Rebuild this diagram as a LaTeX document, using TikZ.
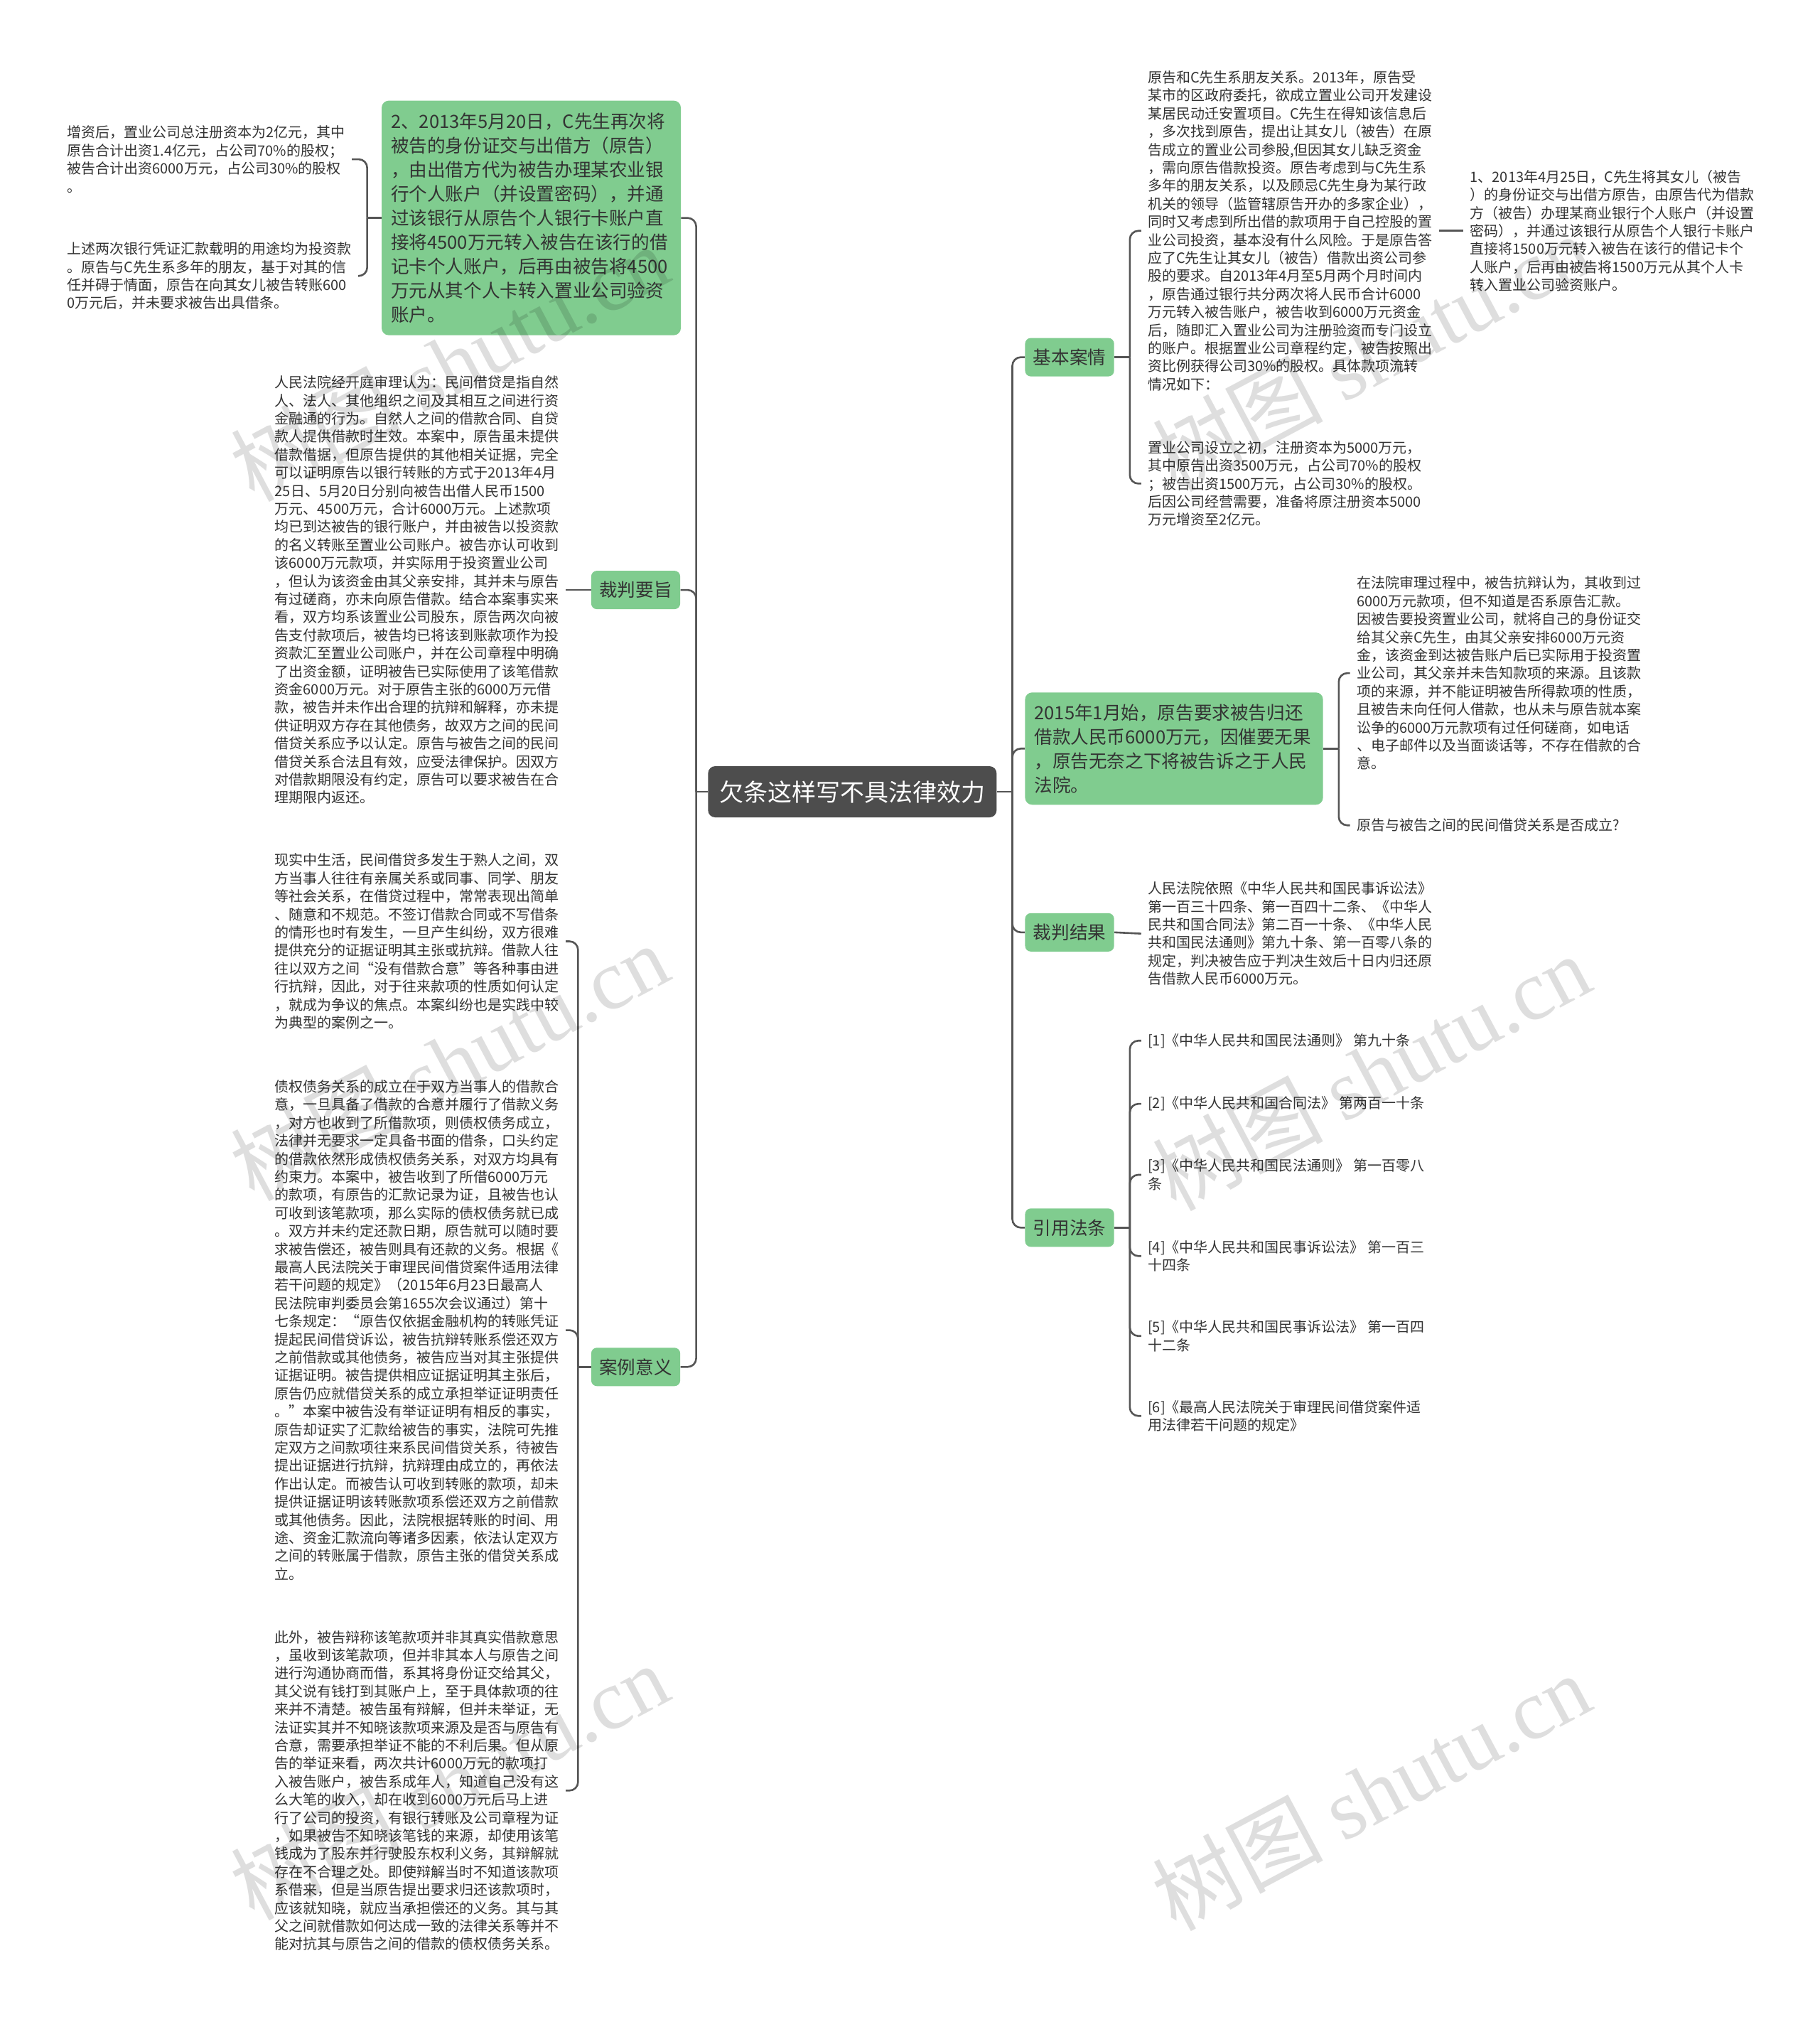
\documentclass[tikz,border=0pt]{standalone}
\usepackage{fontspec}
\setmainfont{Noto Sans CJK SC}
\newfontfamily\wmfont{Liberation Serif}
\usepackage{xcolor}
\usetikzlibrary{positioning}

\definecolor{mmgreen}{HTML}{80CC8F}
\definecolor{mmdark}{HTML}{4D4D4D}
\definecolor{mmline}{HTML}{555555}
\definecolor{mmtext}{HTML}{333333}

\tikzset{
  conn/.style={draw=mmline, line width=1.3pt, rounded corners=6pt},
  txt/.style={align=left, text=mmtext, anchor=west, inner xsep=4.5pt, inner ysep=0pt,
              font=\fontsize{10pt}{12.7pt}\selectfont},
  branch/.style={fill=mmgreen, text=mmtext, rounded corners=4pt, inner sep=0pt,
                 minimum width=62.6pt, minimum height=27pt,
                 font=\fontsize{12.8pt}{17pt}\selectfont},
  bigbranch/.style={fill=mmgreen, text=mmtext, rounded corners=5pt, align=left,
                    inner xsep=6.5pt, font=\fontsize{12.8pt}{17pt}\selectfont},
  rootbox/.style={fill=mmdark, text=white, rounded corners=5pt, inner sep=0pt,
                  minimum width=203pt, minimum height=36pt,
                  font=\fontsize{17pt}{20pt}\selectfont},
  wmark/.style={text=black, opacity=0.13, rotate=28, anchor=west, inner sep=0pt,
                font=\fontsize{60pt}{64pt}\selectfont}
}

\begin{document}
\begin{tikzpicture}[x=0.9072pt, y=-0.9072pt]

    \fill[white] (0,0) rectangle (1411,1568);
    \useasboundingbox (0,0) rectangle (1411,1568);

    % --- Center ---
    \node[rootbox] (root) at (661,614) {欠条这样写不具法律效力};

    % --- Left Side ---
    % Branches
    \node[bigbranch, text width=197.5pt, minimum height=165pt] (pay2) at (412,169) {2、2013年5月20日，C先生再次将\\被告的身份证交与出借方（原告）\\，由出借方代为被告办理某农业银\\行个人账户（并设置密码），并通\\过该银行从原告个人银行卡账户直\\接将4500万元转入被告在该行的借\\记卡个人账户，后再由被告将4500\\万元从其个人卡转入置业公司验资\\账户。};
    \node[branch] (rule) at (493,457.5) {裁判要旨};
    \node[branch] (meaning) at (493,1060) {案例意义};

    % Texts
    \node[txt] (capital) at (47,123.5) {增资后，置业公司总注册资本为2亿元，其中\\原告合计出资1.4亿元，占公司70\%的股权；\\被告合计出资6000万元，占公司30\%的股权\\。};
    \node[txt] (voucher) at (47,214) {上述两次银行凭证汇款载明的用途均为投资款\\。原告与C先生系多年的朋友，基于对其的信\\任并碍于情面，原告在向其女儿被告转账600\\0万元后，并未要求被告出具借条。};
    \node[txt] (ruletext) at (208,457.5) {人民法院经开庭审理认为：民间借贷是指自然\\人、法人、其他组织之间及其相互之间进行资\\金融通的行为。自然人之间的借款合同、自贷\\款人提供借款时生效。本案中，原告虽未提供\\借款借据，但原告提供的其他相关证据，完全\\可以证明原告以银行转账的方式于2013年4月\\25日、5月20日分别向被告出借人民币1500\\万元、4500万元，合计6000万元。上述款项\\均已到达被告的银行账户，并由被告以投资款\\的名义转账至置业公司账户。被告亦认可收到\\该6000万元款项，并实际用于投资置业公司\\，但认为该资金由其父亲安排，其并未与原告\\有过磋商，亦未向原告借款。结合本案事实来\\看，双方均系该置业公司股东，原告两次向被\\告支付款项后，被告均已将该到账款项作为投\\资款汇至置业公司账户，并在公司章程中明确\\了出资金额，证明被告已实际使用了该笔借款\\资金6000万元。对于原告主张的6000万元借\\款，被告并未作出合理的抗辩和解释，亦未提\\供证明双方存在其他债务，故双方之间的民间\\借贷关系应予以认定。原告与被告之间的民间\\借贷关系合法且有效，应受法律保护。因双方\\对借款期限没有约定，原告可以要求被告在合\\理期限内返还。};
    \node[txt] (meaning1) at (208,730) {现实中生活，民间借贷多发生于熟人之间，双\\方当事人往往有亲属关系或同事、同学、朋友\\等社会关系，在借贷过程中，常常表现出简单\\、随意和不规范。不签订借款合同或不写借条\\的情形也时有发生，一旦产生纠纷，双方很难\\提供充分的证据证明其主张或抗辩。借款人往\\往以双方之间“没有借款合意”等各种事由进\\行抗辩，因此，对于往来款项的性质如何认定\\，就成为争议的焦点。本案纠纷也是实践中较\\为典型的案例之一。};
    \node[txt] (meaning2) at (208,1031.5) {债权债务关系的成立在于双方当事人的借款合\\意，一旦具备了借款的合意并履行了借款义务\\，对方也收到了所借款项，则债权债务成立，\\法律并无要求一定具备书面的借条，口头约定\\的借款依然形成债权债务关系，对双方均具有\\约束力。本案中，被告收到了所借6000万元\\的款项，有原告的汇款记录为证，且被告也认\\可收到该笔款项，那么实际的债权债务就已成\\。双方并未约定还款日期，原告就可以随时要\\求被告偿还，被告则具有还款的义务。根据《\\最高人民法院关于审理民间借贷案件适用法律\\若干问题的规定》（2015年6月23日最高人\\民法院审判委员会第1655次会议通过）第十\\七条规定：“原告仅依据金融机构的转账凭证\\提起民间借贷诉讼，被告抗辩转账系偿还双方\\之前借款或其他债务，被告应当对其主张提供\\证据证明。被告提供相应证据证明其主张后，\\原告仍应就借贷关系的成立承担举证证明责任\\。”本案中被告没有举证证明有相反的事实，\\原告却证实了汇款给被告的事实，法院可先推\\定双方之间款项往来系民间借贷关系，待被告\\提出证据进行抗辩，抗辩理由成立的，再依法\\作出认定。而被告认可收到转账的款项，却未\\提供证据证明该转账款项系偿还双方之前借款\\或其他债务。因此，法院根据转账的时间、用\\途、资金汇款流向等诸多因素，依法认定双方\\之间的转账属于借款，原告主张的借贷关系成\\立。};
    \node[txt] (meaning3) at (208,1388.5) {此外，被告辩称该笔款项并非其真实借款意思\\，虽收到该笔款项，但并非其本人与原告之间\\进行沟通协商而借，系其将身份证交给其父，\\其父说有钱打到其账户上，至于具体款项的往\\来并不清楚。被告虽有辩解，但并未举证，无\\法证实其并不知晓该款项来源及是否与原告有\\合意，需要承担举证不能的不利后果。但从原\\告的举证来看，两次共计6000万元的款项打\\入被告账户，被告系成年人，知道自己没有这\\么大笔的收入，却在收到6000万元后马上进\\行了公司的投资，有银行转账及公司章程为证\\，如果被告不知晓该笔钱的来源，却使用该笔\\钱成为了股东并行驶股东权利义务，其辩解就\\存在不合理之处。即使辩解当时不知道该款项\\系借来，但是当原告提出要求归还该款项时，\\应该就知晓，就应当承担偿还的义务。其与其\\父之间就借款如何达成一致的法律关系等并不\\能对抗其与原告之间的借款的债权债务关系。};

    % --- Right Side ---
    % Branches
    \node[branch] (facts) at (829.5,277) {基本案情};
    \node[bigbranch, text width=196.6pt, minimum height=79pt] (suit) at (910.5,580.5) {2015年1月始，原告要求被告归还\\借款人民币6000万元，因催要无果\\，原告无奈之下将被告诉之于人民\\法院。};
    \node[branch] (verdict) at (829.5,723) {裁判结果};
    \node[branch] (laws) at (829.5,952) {引用法条};

    % Texts
    \node[txt] (story) at (885,179) {原告和C先生系朋友关系。2013年，原告受\\某市的区政府委托，欲成立置业公司开发建设\\某居民动迁安置项目。C先生在得知该信息后\\，多次找到原告，提出让其女儿（被告）在原\\告成立的置业公司参股,但因其女儿缺乏资金\\，需向原告借款投资。原告考虑到与C先生系\\多年的朋友关系，以及顾忌C先生身为某行政\\机关的领导（监管辖原告开办的多家企业），\\同时又考虑到所出借的款项用于自己控股的置\\业公司投资，基本没有什么风险。于是原告答\\应了C先生让其女儿（被告）借款出资公司参\\股的要求。自2013年4月至5月两个月时间内\\，原告通过银行共分两次将人民币合计6000\\万元转入被告账户，被告收到6000万元资金\\后，随即汇入置业公司为注册验资而专门设立\\的账户。根据置业公司章程约定，被告按照出\\资比例获得公司30\%的股权。具体款项流转\\情况如下：};
    \node[txt] (payone) at (1135,179) {1、2013年4月25日，C先生将其女儿（被告\\）的身份证交与出借方原告，由原告代为借款\\方（被告）办理某商业银行个人账户（并设置\\密码），并通过该银行从原告个人银行卡账户\\直接将1500万元转入被告在该行的借记卡个\\人账户，后再由被告将1500万元从其个人卡\\转入置业公司验资账户。};
    \node[txt] (founding) at (885,375) {置业公司设立之初，注册资本为5000万元，\\其中原告出资3500万元，占公司70\%的股权\\；被告出资1500万元，占公司30\%的股权。\\后因公司经营需要，准备将原注册资本5000\\万元增资至2亿元。};
    \node[txt] (defence) at (1047,522) {在法院审理过程中，被告抗辩认为，其收到过\\6000万元款项，但不知道是否系原告汇款。\\因被告要投资置业公司，就将自己的身份证交\\给其父亲C先生，由其父亲安排6000万元资\\金，该资金到达被告账户后已实际用于投资置\\业公司，其父亲并未告知款项的来源。且该款\\项的来源，并不能证明被告所得款项的性质，\\且被告未向任何人借款，也从未与原告就本案\\讼争的6000万元款项有过任何磋商，如电话\\、电子邮件以及当面谈话等，不存在借款的合\\意。};
    \node[txt] (question) at (1047,640) {原告与被告之间的民间借贷关系是否成立?};
    \node[txt] (verdicttext) at (885,724) {人民法院依照《中华人民共和国民事诉讼法》\\第一百三十四条、第一百四十二条、《中华人\\民共和国合同法》第二百一十条、《中华人民\\共和国民法通则》第九十条、第一百零八条的\\规定，判决被告应于判决生效后十日内归还原\\告借款人民币6000万元。};
    \node[txt] (law1) at (885,807) {[1]《中华人民共和国民法通则》 第九十条};
    \node[txt] (law2) at (885,856) {[2]《中华人民共和国合同法》 第两百一十条};
    \node[txt] (law3) at (885,911) {[3]《中华人民共和国民法通则》 第一百零八\\条};
    \node[txt] (law4) at (885,974) {[4]《中华人民共和国民事诉讼法》 第一百三\\十四条};
    \node[txt] (law5) at (885,1036) {[5]《中华人民共和国民事诉讼法》 第一百四\\十二条};
    \node[txt] (law6) at (885,1098) {[6]《最高人民法院关于审理民间借贷案件适\\用法律若干问题的规定》};

    % --- Connectors ---
    % left trunk
    \draw[conn] (root.west) -- ++(-9,0) coordinate (lj);
    \foreach \n in {pay2,rule,meaning}
        \draw[conn] (lj) |- (\n.east);
    \draw[conn] (pay2.west) -- ++(-11,0) coordinate (pj);
    \foreach \n in {capital,voucher}
        \draw[conn] (pj) |- (\n.east);
    \draw[conn] (rule.west) -- (ruletext.east);
    \draw[conn] (meaning.west) -- ++(-10,0) coordinate (mj);
    \foreach \n in {meaning1,meaning2,meaning3}
        \draw[conn] (mj) |- (\n.east);

    % right trunk
    \draw[conn] (root.east) -- ++(12,0) coordinate (rj);
    \foreach \n in {facts,suit,verdict,laws}
        \draw[conn] (rj) |- (\n.west);
    \draw[conn] (facts.east) -- ++(12,0) coordinate (fj);
    \foreach \n in {story,founding}
        \draw[conn] (fj) |- (\n.west);
    \draw[conn] (story.east) -- (payone.west);
    \draw[conn] (suit.east) -- ++(12,0) coordinate (sj);
    \foreach \n in {defence,question}
        \draw[conn] (sj) |- (\n.west);
    \draw[conn] (verdict.east) -- (verdicttext.west);
    \draw[conn] (laws.east) -- ++(12,0) coordinate (lawj);
    \foreach \n in {law1,law2,law3,law4,law5,law6}
        \draw[conn] (lawj) |- (\n.west);

    % --- Watermarks ---
    \node[wmark] (wm1) at (185,368) {树图 {\wmfont shutu.cn}};
    \node[wmark] (wm2) at (900,360) {树图 {\wmfont shutu.cn}};
    \node[wmark] (wm3) at (185,910) {树图 {\wmfont shutu.cn}};
    \node[wmark] (wm4) at (900,918) {树图 {\wmfont shutu.cn}};
    \node[wmark] (wm5) at (185,1468) {树图 {\wmfont shutu.cn}};
    \node[wmark] (wm6) at (900,1476) {树图 {\wmfont shutu.cn}};

\end{tikzpicture}
\end{document}
